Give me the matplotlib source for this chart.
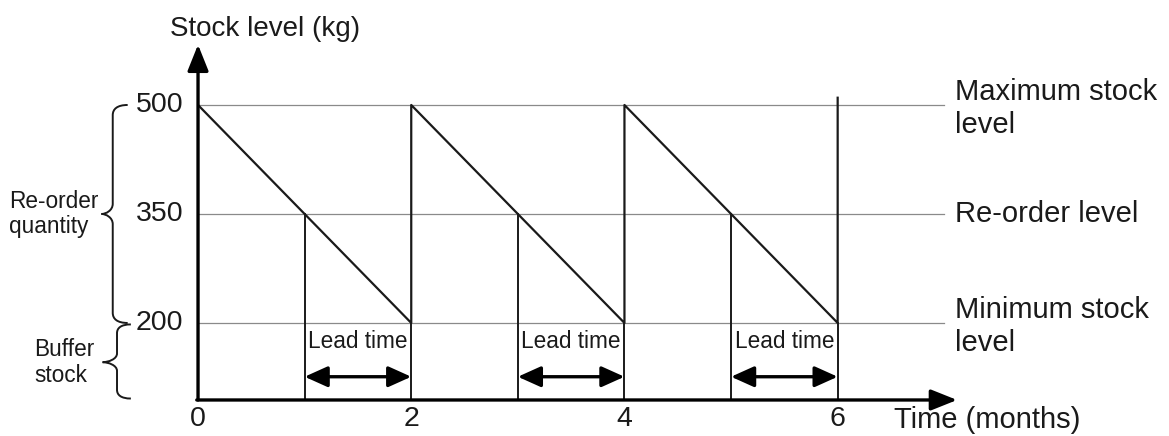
import matplotlib.pyplot as plt
from matplotlib.path import Path
from matplotlib.patches import PathPatch

plt.rcParams['font.family'] = ['Liberation Sans', 'DejaVu Sans']

# datos del grafico
max_level = 500
reorder_level = 350
min_level = 200
level_values = [max_level, reorder_level, min_level]
level_names = ["Maximum stock\nlevel", "Re-order level", "Minimum stock\nlevel"]

stock_time = [0, 2, 2, 4, 4, 6, 6]
stock_kg = [500, 200, 500, 200, 500, 200, 510]

reorder_times = [1, 3, 5]
delivery_times = [2, 4, 6]

x_ticks = [0, 2, 4, 6]
y_ticks = [500, 350, 200]

y_bottom = 94
x_end = 7.0
x_arrow = 7.12
y_arrow = 583

INK = "#1a1a1a"


def llave(ax, x_tip, x_mid, x_end, y_top, y_bot, y_tip, c):
    """Dibuja una llave vertical que apunta a la izquierda."""
    verts = [
        (x_end, y_top),
        (x_mid + 0.3 * (x_end - x_mid), y_top), (x_mid, y_top - 0.4 * c), (x_mid, y_top - c),
        (x_mid, y_tip + c),
        (x_mid, y_tip + 0.35 * c), (x_tip + 0.4 * (x_mid - x_tip), y_tip), (x_tip, y_tip),
        (x_tip + 0.4 * (x_mid - x_tip), y_tip), (x_mid, y_tip - 0.35 * c), (x_mid, y_tip - c),
        (x_mid, y_bot + c),
        (x_mid, y_bot + 0.4 * c), (x_mid + 0.3 * (x_end - x_mid), y_bot), (x_end, y_bot),
    ]
    codes = [Path.MOVETO,
             Path.CURVE4, Path.CURVE4, Path.CURVE4,
             Path.LINETO,
             Path.CURVE4, Path.CURVE4, Path.CURVE4,
             Path.CURVE4, Path.CURVE4, Path.CURVE4,
             Path.LINETO,
             Path.CURVE4, Path.CURVE4, Path.CURVE4]
    ax.add_patch(PathPatch(Path(verts, codes), fill=False, lw=1.4,
                           edgecolor=INK, clip_on=False))


fig = plt.figure(figsize=(11.69, 4.36), dpi=100)
ax = fig.add_axes([0.1694, 0.0826, 0.6566, 0.8266])
ax.set_xlim(0, 7.2)
ax.set_ylim(y_bottom, 590)
ax.axis("off")

# lineas horizontales de niveles
for lv in level_values:
    ax.plot([0, x_end], [lv, lv], color="#8a8a8a", lw=0.9, zorder=1)

# diente de sierra
ax.plot(stock_time, stock_kg, color=INK, lw=1.6, zorder=3)

# lineas verticales en el punto de pedido y la entrega
for t in reorder_times:
    ax.plot([t, t], [y_bottom, reorder_level], color=INK, lw=1.4, zorder=3)
for t in delivery_times:
    ax.plot([t, t], [y_bottom, min_level], color=INK, lw=1.4, zorder=3)

# flechas de lead time
for t0, t1 in zip(reorder_times, delivery_times):
    ax.annotate("", xy=(t1, 126), xytext=(t0, 126),
                arrowprops=dict(arrowstyle="<|-|>,head_length=1.0,head_width=0.45",
                                mutation_scale=14, color="black", lw=2.4,
                                shrinkA=0, shrinkB=0))
    ax.text((t0 + t1) / 2, 175, "Lead time", ha="center", va="center",
            fontsize=16.3, color=INK)

# ejes con flecha
ax.annotate("", xy=(0, y_arrow), xytext=(0, y_bottom),
            arrowprops=dict(arrowstyle="-|>,head_length=1.0,head_width=0.4",
                            mutation_scale=16, color="black", lw=2.4,
                            shrinkA=0, shrinkB=0), annotation_clip=False)
ax.annotate("", xy=(x_arrow, y_bottom), xytext=(-0.012, y_bottom),
            arrowprops=dict(arrowstyle="-|>,head_length=1.0,head_width=0.4",
                            mutation_scale=16, color="black", lw=2.4,
                            shrinkA=0, shrinkB=0), annotation_clip=False)

# etiquetas de los ejes
for t in x_ticks:
    ax.text(t, 68, str(t), ha="center", va="center", fontsize=20.5, color=INK, clip_on=False)
for v in y_ticks:
    ax.text(-0.14, v, str(v), ha="right", va="center", fontsize=20.5, color=INK, clip_on=False)

ax.text(0.63, 605, "Stock level (kg)", ha="center", va="center", fontsize=20,
        color=INK, clip_on=False)
ax.text(6.53, 66, "Time (months)", ha="left", va="center", fontsize=21,
        color=INK, clip_on=False)

# nombres de los niveles a la derecha
for lv, name in zip(level_values, level_names):
    shift = -5 if "\n" in name else 0
    ax.text(7.1, lv + shift, name, ha="left", va="center", fontsize=21, color=INK,
            linespacing=1.25, clip_on=False)

# llaves de la izquierda
llave(ax, -0.905, -0.80, -0.66, max_level, min_level, reorder_level, 14)
llave(ax, -0.895, -0.76, -0.63, min_level - 2, y_bottom + 2, 146, 12)

ax.text(-1.77, reorder_level, "Re-order\nquantity", ha="left", va="center",
        fontsize=16.3, color=INK, linespacing=1.15, clip_on=False)
ax.text(-1.54, 146, "Buffer\nstock", ha="left", va="center",
        fontsize=16.3, color=INK, linespacing=1.15, clip_on=False)

fig.savefig("out.png", dpi=100)
